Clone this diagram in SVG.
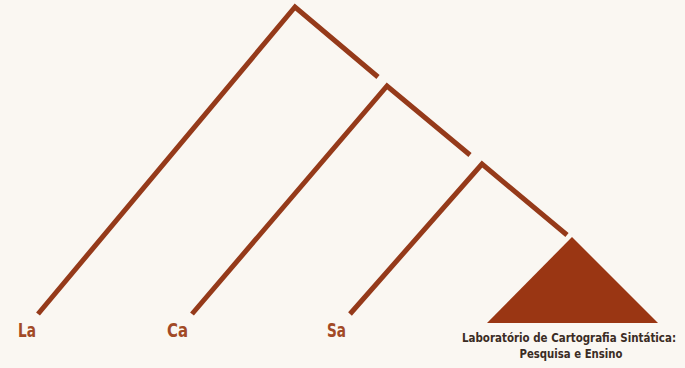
<svg xmlns="http://www.w3.org/2000/svg" width="685" height="368" viewBox="0 0 685 368">
<style>
.br{fill:none;stroke:#953a1a;stroke-width:5;stroke-linecap:butt;stroke-linejoin:miter}
.lab{font-family:"Liberation Sans Narrow","DejaVu Sans Condensed","Liberation Sans",sans-serif;font-weight:bold;font-size:19px;fill:#a24a26}
.cap{font-family:"Liberation Sans Narrow","DejaVu Sans Condensed","Liberation Sans",sans-serif;font-weight:bold;font-size:12px;fill:#3a2c24;text-anchor:middle}
</style>
<rect width="685" height="368" fill="#faf7f2"/>
<g id="connectors">
<polyline class="br" points="38,314 295,7 378,77"/>
<polyline class="br" points="192,314 387,86 470,155"/>
<polyline class="br" points="350,314 482,164 567,235"/>
</g>
<g id="node-la"><text class="lab" x="18" y="337" textLength="18" lengthAdjust="spacingAndGlyphs">La</text></g>
<g id="node-ca"><text class="lab" x="167" y="337" textLength="21" lengthAdjust="spacingAndGlyphs">Ca</text></g>
<g id="node-sa"><text class="lab" x="327" y="337" textLength="19" lengthAdjust="spacingAndGlyphs">Sa</text></g>
<g id="node-lab">
<polygon points="572,237 487,323 658,323" fill="#9a3613"/>
<text class="cap" x="569" y="342" textLength="214" lengthAdjust="spacingAndGlyphs">Laboratório de Cartografia Sintática:</text>
<text class="cap" x="571" y="358" textLength="103" lengthAdjust="spacingAndGlyphs">Pesquisa e Ensino</text>
</g>
</svg>
